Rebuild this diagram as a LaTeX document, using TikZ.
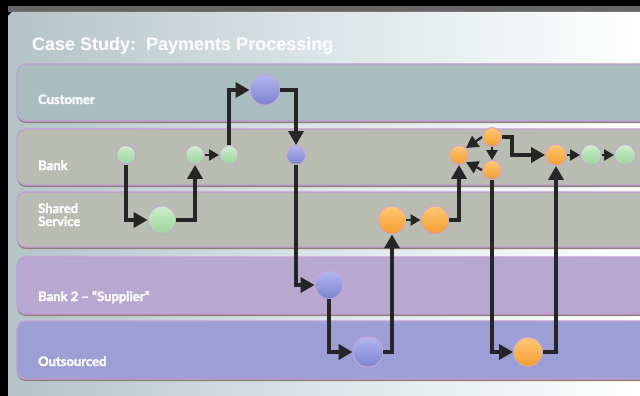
\documentclass[tikz,border=0pt]{standalone}
\usepackage{fontspec}
\setmainfont{Liberation Sans}
\newfontfamily\lanefont{Lato}[BoldFeatures={FakeBold=1.6}]
\usetikzlibrary{arrows.meta}
\definecolor{custlane}{HTML}{A9BCC0}
\definecolor{banklane}{HTML}{B9BCB1}
\definecolor{supplane}{HTML}{B8A7CE}
\definecolor{outlane}{HTML}{9C9ED6}
\definecolor{laneedge}{HTML}{C49BD8}
\definecolor{laneshadow}{HTML}{8E7F78}
\definecolor{balledge}{HTML}{C8A6DA}
\definecolor{arrcol}{HTML}{262626}
\definecolor{bgleft}{HTML}{B3C3C8}
\definecolor{bgmid}{HTML}{DCE5E8}
\definecolor{gtop}{HTML}{CDEFCB}
\definecolor{gbot}{HTML}{9CD39D}
\definecolor{otop}{HTML}{FFC777}
\definecolor{obot}{HTML}{F29E2E}
\definecolor{btop}{HTML}{B0B6EE}
\definecolor{bbot}{HTML}{7C82CC}
\tikzset{
  lane/.style={draw=laneedge, line width=1.3pt, rounded corners=9pt},
  laneshade/.style={fill=laneshadow, rounded corners=9pt},
  lanelabel/.style={anchor=base west, text=white, font=\lanefont\bfseries\fontsize{13}{13}\selectfont, inner sep=0pt, align=left},
  ball/.style={circle, draw=balledge, line width=0.9pt, inner sep=0pt},
  gball/.style={ball, top color=gtop, bottom color=gbot},
  oball/.style={ball, top color=otop, bottom color=obot},
  bball/.style={ball, top color=btop, bottom color=bbot},
  arr/.style={draw=arrcol, line width=4.2pt, line join=miter, -{Triangle[length=14pt,width=15pt]}},
  sarr/.style={draw=arrcol, line width=2.2pt, -{Triangle[length=10pt,width=11pt]}},
  varr/.style={draw=arrcol, line width=2.4pt, -{Triangle[length=12pt,width=13pt]}},
}
\begin{document}
\begin{tikzpicture}[x=1pt,y=-1pt]
\useasboundingbox (0,0) rectangle (640,396);
% frame and background
\fill[black] (0,0) rectangle (640,396);
\fill[black!60] (8,6) rectangle (640,12);
\path[left color=bgleft, right color=white, middle color=bgmid]
  (8,16) -- (12,12) -- (640,12) -- (640,396) -- (8,396) -- cycle;
% title
\node[anchor=base west, inner sep=0pt, text=white, font=\bfseries\fontsize{18}{18}\selectfont] (title) at (32,51) {Case Study:\ \ Payments Processing};
% lanes
\foreach \t/\b/\c in {64/121/custlane, 129/185/banklane, 192/247/banklane, 257/314/supplane, 321/379/outlane}{
  \fill[laneshade] (17,\t+2) rectangle (660,\b+2);
  \path[lane, fill=\c] (17,\t) rectangle (660,\b);
}
% lane labels
\node[lanelabel] (lcust) at (38,104) {Customer};
\node[lanelabel] (lbank) at (38,170) {Bank};
\node[lanelabel] (lshared) at (38,213) {Shared};
\node[lanelabel] (lservice) at (38,226) {Service};
\node[lanelabel] (lbank2) at (38,301) {Bank 2 – “Supplier”};
\node[lanelabel] (lout) at (38,366) {Outsourced};
% nodes
\node[gball, minimum size=19pt] (g1) at (126,155) {};
\node[gball, minimum size=19pt] (g2) at (195,155) {};
\node[gball, minimum size=19pt] (g3) at (229,155) {};
\node[bball, minimum size=19pt] (b1) at (296,155) {};
\node[oball, minimum size=19pt] (o1) at (459,155) {};
\node[oball, minimum size=19pt] (o2) at (492,137) {};
\node[oball, minimum size=19pt] (o3) at (492,170) {};
\node[oball, minimum size=21pt] (o4) at (556,155) {};
\node[gball, minimum size=21pt] (g4) at (591,155) {};
\node[gball, minimum size=21pt] (g5) at (625,155) {};
\node[bball, minimum size=30pt] (cb) at (265,90) {};
\node[gball, minimum size=28pt] (sg) at (162,220) {};
\node[oball, minimum size=28pt] (o5) at (392,220) {};
\node[oball, minimum size=28pt] (o6) at (435,220) {};
\node[bball, minimum size=28pt] (bb) at (329,285) {};
\node[bball, minimum size=30pt] (ob) at (368,352) {};
\node[oball, minimum size=29pt] (oo) at (528,352) {};
\coordinate (k1) at (512,137);
% connectors
\draw[arr] (g1) |- (sg);
\draw[arr] (sg) -| (g2);
\draw[sarr] (g2) -- (g3);
\draw[arr] (g3) |- (cb);
\draw[arr] (cb) -| (b1);
\draw[arr] (b1) |- (bb);
\draw[arr] (bb) |- (ob);
\draw[arr] (ob) -| (o5);
\draw[sarr] (o5) -- (o6);
\draw[arr] (o6) -| (o1);
\draw[varr] (o2.west) -- (o1.north east);
\draw[varr] (o3.west) -- (o1.south east);
\draw[sarr] (o2) -- (o3);
\draw[arr] (o2) -- (k1) |- (o4);
\draw[arr] (o3) |- (oo);
\draw[arr] (oo) -| (o4);
\draw[sarr] (o4) -- (g4);
\draw[sarr] (g4) -- (g5);
\end{tikzpicture}
\end{document}
